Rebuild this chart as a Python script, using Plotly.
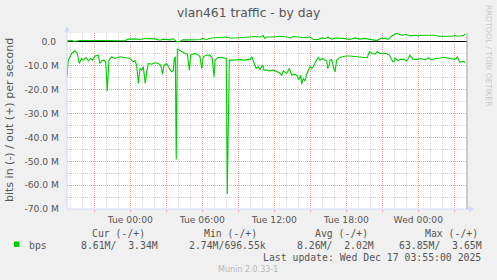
import plotly.graph_objects as go
import pandas as pd

TITLE = "vlan461 traffic - by day"
BASE = pd.Timestamp("2025-12-16 00:00")

# hours relative to Tue 2025-12-16 00:00, values in Mbit/s
in_hours = [-5.28, -5.17, -4.88, -4.61, -4.42, -4.25, -4.05, -3.92, -3.69, -3.5, -3.3, -3.13,
            -2.94, -2.67, -2.53, -2.38, -2.19, -2.05, -1.92, -1.78, -1.55, -1.28, -0.86, -0.44,
            -0.03, 0.25, 0.39, 0.53, 0.67, 0.81, 0.95, 1.08, 1.25, 1.37, 1.5, 1.78, 2.06, 2.33,
            2.53, 2.7, 2.81, 3.03, 3.17, 3.31, 3.45, 3.58, 3.67, 3.75, 3.83, 3.92, 4.0, 4.28,
            4.56, 4.75, 4.92, 5.03, 5.39, 5.67, 5.81, 5.95, 6.08, 6.37, 6.64, 6.83, 6.98, 7.06,
            7.33, 7.62, 7.89, 8.0, 8.08, 8.17, 8.25, 8.58, 8.87, 9.14, 9.42, 9.7, 9.98, 10.12,
            10.25, 10.48, 10.67, 10.81, 11.03, 11.14, 11.37, 11.64, 11.92, 12.2, 12.42, 12.62,
            12.75, 13.03, 13.25, 13.45, 13.64, 13.87, 14.06, 14.2, 14.28, 14.42, 14.56, 14.7,
            14.83, 14.98, 15.12, 15.25, 15.48, 15.67, 15.81, 16.03, 16.22, 16.37, 16.45, 16.58,
            16.64, 16.78, 16.92, 17.06, 17.2, 17.33, 17.47, 17.7, 17.98, 18.31, 18.73, 19.14,
            19.48, 19.75, 19.92, 20.12, 20.39, 20.58, 20.81, 21.08, 21.37, 21.58, 21.78, 21.87,
            21.98, 22.06, 22.33, 22.48, 22.81, 23.03, 23.17, 23.31, 23.53, 23.87, 24.28, 24.56,
            24.83, 25.12, 25.39, 25.67, 26.08, 26.42, 26.78, 27.06, 27.25, 27.48, 27.75, 27.92]
in_mbps = [-14.6, -7.6, -4.8, -3.7, -4.8, -9.0, -6.9, -7.6, -6.5, -7.9, -6.9, -7.6,
           -5.9, -5.5, -9.0, -7.9, -7.6, -8.3, -20.5, -7.6, -6.2, -6.9, -6.2, -6.5,
           -6.9, -8.3, -7.9, -9.7, -17.4, -11.1, -11.8, -10.4, -17.4, -12.5, -9.0, -9.3, -8.7, -9.0,
           -9.7, -13.5, -9.7, -9.0, -10.4, -11.5, -12.5, -12.1, -6.9, -6.2, -49.2, -3.1, -3.1, -4.1,
           -4.8, -5.1, -11.8, -5.5, -4.8, -5.5, -6.2, -11.1, -6.2, -5.5, -5.5, -6.9, -14.6, -7.6,
           -6.5, -6.5, -6.9, -6.9, -63.85, -35.0, -7.6, -7.6, -7.3, -7.3, -7.6, -7.3, -7.3, -6.2,
           -8.3, -11.1, -10.4, -11.5, -9.7, -11.8, -11.8, -12.1, -11.8, -12.5, -12.9, -13.9,
           -12.1, -13.2, -11.1, -13.9, -13.5, -13.9, -15.7, -13.9, -17.7, -15.3, -16.3, -13.5,
           -12.1, -10.4, -11.1, -10.4, -7.9, -6.5, -7.6, -6.9, -7.6, -7.9, -11.1, -9.7,
           -7.6, -7.3, -10.4, -12.5, -7.6, -6.9, -6.5, -6.2, -5.9, -5.9, -6.2, -6.2,
           -6.5, -6.5, -4.1, -4.6, -5.1, -4.1, -4.8, -4.8, -4.8, -5.5, -7.6, -8.3,
           -8.3, -6.7, -7.9, -7.3, -7.3, -8.0, -6.9, -5.5, -7.2, -7.3, -6.9, -7.5,
           -6.7, -7.5, -6.9, -6.9, -6.4, -6.7, -6.9, -7.3, -6.4, -8.6, -8.0, -8.61]

out_hours = [-5.28, -4.86, -4.69, -4.44, -4.19, -2.53, -0.44, -0.19, 0.39, 0.81, 1.31, 2.06,
             2.48, 2.73, 2.98, 3.31, 3.56, 3.73, 3.87, 4.14, 4.37, 4.98, 5.81, 6.03, 6.37,
             6.78, 7.2, 7.64, 8.03, 8.31, 8.87, 9.42, 9.98, 10.39, 10.81, 11.08, 11.18, 11.37,
             11.92, 12.48, 13.03, 13.31, 13.58, 14.42, 14.98, 15.25, 15.67, 15.95, 16.22, 16.5,
             16.78, 17.2, 17.75, 18.31, 18.73, 19.14, 19.56, 20.12, 20.53, 20.87, 21.23, 21.5,
             21.78, 22.2, 22.62, 23.03, 23.31, 23.73, 24.0, 24.28, 24.7, 24.98, 25.39, 25.67,
             25.95, 26.23, 26.78, 27.06, 27.33, 27.75, 27.92]
out_mbps = [0.46, 0.6, 0.2, 0.4, 0.6, 0.6, 0.55, 1.2, 1.3, 1.05, 1.5, 1.3,
            0.75, 1.2, 1.0, 0.9, 1.4, 0.46, 0.05, 0.33, 0.9, 0.9, 1.05, 1.46, 1.05,
            1.7, 1.7, 2.0, 2.1, 1.7, 1.7, 1.9, 1.9, 2.3, 2.1, 2.7, 1.5, 2.1,
            2.1, 2.4, 2.1, 1.7, 2.3, 1.9, 2.1, 1.05, 1.05, 1.7, 1.5, 2.0,
            1.2, 1.7, 1.5, 1.05, 1.7, 1.2, 1.5, 0.9, 0.6, 1.5, 1.5, 1.05,
            2.55, 3.65, 2.85, 3.14, 2.55, 2.85, 2.55, 2.85, 2.85, 3.14, 2.85, 2.4,
            2.3, 2.4, 2.4, 2.7, 2.4, 2.7, 3.34]

y_tick_vals = [0, -10, -20, -30, -40, -50, -60, -70]
y_tick_text = ["0.0\u00a0", "-10.0 M", "-20.0 M", "-30.0 M", "-40.0 M", "-50.0 M", "-60.0 M", "-70.0 M"]
x_major_hours = [-3, 0, 3, 6, 9, 12, 15, 18, 21, 24, 27]
x_labels = {0: "Tue 00:00", 6: "Tue 06:00", 12: "Tue 12:00", 18: "Tue 18:00", 24: "Wed 00:00"}

legend_headers = ["Cur (-/+)", "Min (-/+)", "Avg (-/+)", "Max (-/+)"]
legend_values = ["8.61M/  3.34M", "2.74M/696.55k", "8.26M/  2.02M", "63.85M/  3.65M"]
series_name = "bps"
last_update = "Last update: Wed Dec 17 03:55:00 2025"
munin_ver = "Munin 2.0.33-1"
watermark = "RRDTOOL / TOBI OETIKER"

GREEN = "#00CC00"
FONT = "#555555"

def t(h):
    return BASE + pd.to_timedelta(h, unit="h")

in_t = [t(h) for h in in_hours]
out_t = [t(h) for h in out_hours]

fig = go.Figure()
fig.add_trace(go.Scatter(x=in_t, y=[v * 1e6 for v in in_mbps], mode="lines",
                         line=dict(color=GREEN, width=1.1), showlegend=False))
fig.add_trace(go.Scatter(x=out_t, y=[v * 1e6 for v in out_mbps], mode="lines",
                         line=dict(color=GREEN, width=1.1), showlegend=False))

W, H = 497, 280
L, R, T, B = 67, 467, 33, 209

def px(x):
    return (x - L) / (R - L)

def py(y):
    return (B - y) / (B - T)

anns = []
def ann(text, x, y, xanchor="left", size=9.8, color=FONT, family="DejaVu Sans Mono", angle=0, yanchor="middle"):
    anns.append(dict(text=text.replace(" ", "\u00a0"), x=px(x), y=py(y), xref="paper", yref="paper",
                     xanchor=xanchor, yanchor=yanchor, showarrow=False, textangle=angle,
                     font=dict(size=size, color=color, family=family)))

ann(TITLE, 248.5, 12.5, xanchor="center", size=12.3, family="DejaVu Sans", color="#555555")
ann("bits in (-) / out (+) per second", 10, 120, xanchor="center", size=11, family="DejaVu Sans", angle=-90)
ann(watermark, 489, 56, xanchor="center", size=7.9, family="DejaVu Sans", color="#C8C8C8", angle=90)

hdr_x = [90, 201.7, 312.7, 423.3]
val_x = [79, 186.7, 295, 396.7]
for h, x in zip(legend_headers, hdr_x):
    ann(h, x, 233.5)
for v, x in zip(legend_values, val_x):
    ann(v, x, 245)
ann(series_name, 26.7, 245)
ann(last_update, 483.3, 257.3, xanchor="right")
ann(munin_ver, 248.3, 269, xanchor="center", size=8, family="DejaVu Sans", color="#B8B8B8")

AX = "#CFD6F8"
shapes = [
    dict(type="line", xref="paper", yref="paper", x0=px(L), x1=px(471), y0=0, y1=0, line=dict(color=AX, width=1)),
    dict(type="line", xref="paper", yref="paper", x0=0, x1=0, y0=0, y1=py(29), line=dict(color=AX, width=1)),
    dict(type="path", xref="paper", yref="paper",
         path=f"M {px(469)} {py(206)} L {px(474)} {py(209)} L {px(469)} {py(212)} Z",
         fillcolor=AX, line=dict(width=0)),
    dict(type="path", xref="paper", yref="paper",
         path=f"M {px(64)} {py(31.5)} L {px(67)} {py(26.5)} L {px(70)} {py(31.5)} Z",
         fillcolor=AX, line=dict(width=0)),
    dict(type="line", xref="paper", yref="paper", x0=1, x1=1, y0=0, y1=1, line=dict(color="#A0A0A0", width=1)),
    dict(type="rect", xref="paper", yref="paper", x0=px(14), x1=px(19.5), y0=py(247), y1=py(241.5),
         fillcolor=GREEN, line=dict(width=0)),
]

fig.update_layout(
    width=W, height=H,
    margin=dict(l=L, r=W - R, t=T, b=H - B, pad=0),
    paper_bgcolor="#F0F0F0", plot_bgcolor="#FFFFFF",
    showlegend=False,
    annotations=anns, shapes=shapes,
    xaxis=dict(
        type="date",
        range=[t(-5.275), t(28.0583)],
        tickmode="array",
        tickvals=[t(h) for h in x_major_hours],
        ticktext=[x_labels.get(h, "") for h in x_major_hours],
        showgrid=True, gridcolor="#F2A0A0", griddash="1px,1px", gridwidth=1,
        minor=dict(dtick=3600000, tick0=BASE, showgrid=True, gridcolor="#D4D4D4",
                   griddash="1px,1px", gridwidth=1, ticks=""),
        ticks="outside", ticklen=2, tickcolor="#F2A0A0",
        tickfont=dict(family="DejaVu Sans", size=9.2, color=FONT),
        showline=False, zeroline=False, fixedrange=True,
    ),
    yaxis=dict(
        range=[-70e6, 3.77e6],
        tickmode="array",
        tickvals=[v * 1e6 for v in y_tick_vals],
        ticktext=y_tick_text,
        showgrid=True, gridcolor="#F2A0A0", griddash="1px,1px", gridwidth=1,
        minor=dict(dtick=5e6, tick0=0, showgrid=True, gridcolor="#D4D4D4",
                   griddash="1px,1px", gridwidth=1, ticks=""),
        ticks="", ticklabelstandoff=7,
        tickfont=dict(family="DejaVu Sans", size=9.2, color=FONT),
        zeroline=True, zerolinecolor="#000000", zerolinewidth=1.2,
        showline=False, fixedrange=True,
    ),
)

fig.write_html("out.html")
